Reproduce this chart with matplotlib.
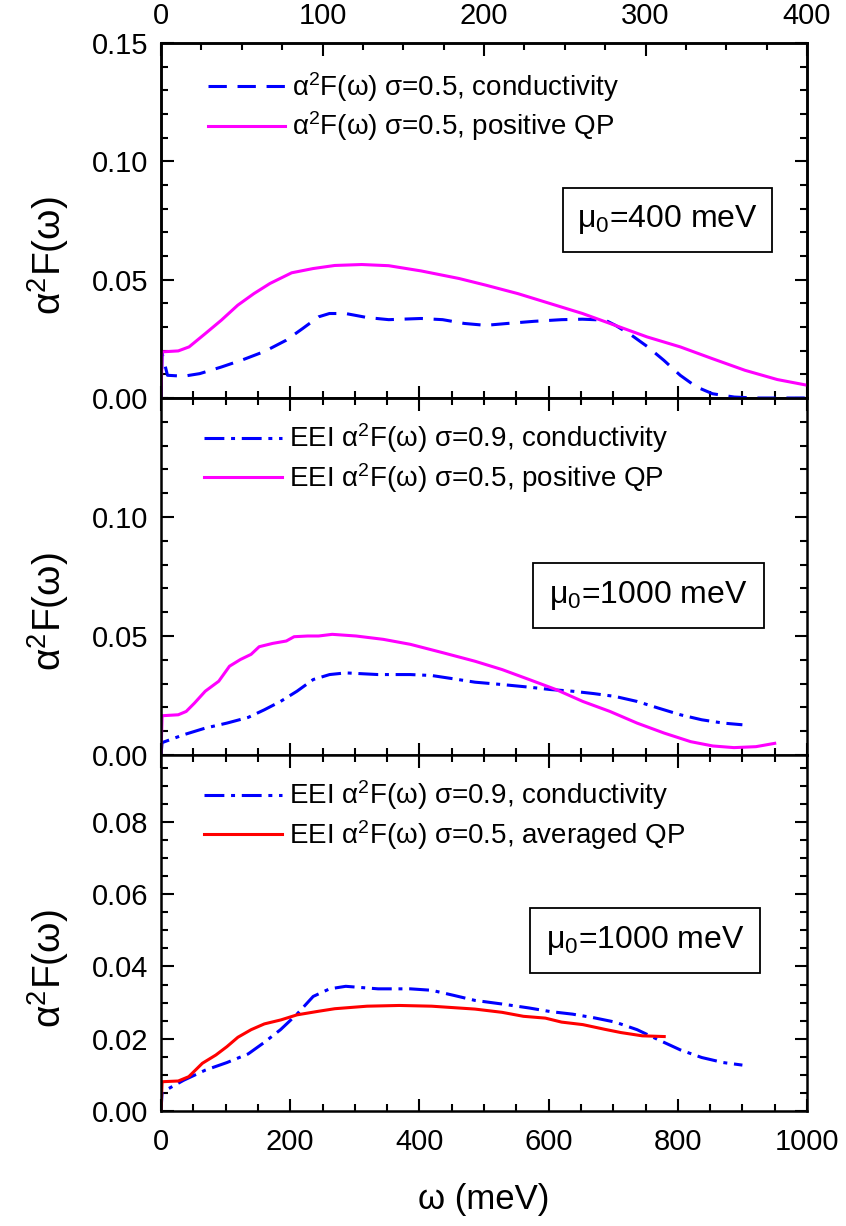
import numpy as np
import matplotlib
matplotlib.use("Agg")
import matplotlib.pyplot as plt
from matplotlib.ticker import MultipleLocator, FixedLocator
from matplotlib.patches import Rectangle

plt.rcParams['font.family'] = ['Liberation Sans', 'DejaVu Sans']
plt.rcParams['mathtext.fontset'] = 'custom'
plt.rcParams['mathtext.rm'] = 'Liberation Sans'
plt.rcParams['mathtext.it'] = 'Liberation Sans:italic'
plt.rcParams['mathtext.bf'] = 'Liberation Sans:bold'

# ---------------- data ----------------
# Top panel (mu0 = 400 meV), omega in meV (top axis 0-400)
top_cond_x = [0, 0.7, 4, 14, 24, 37.4, 50.8, 64.2, 77.5, 87.6, 97.6, 104.3, 114.3, 127.6, 141,
              161, 174.4, 187.8, 201, 214.5, 231, 248, 261, 275, 281.4, 291.4, 301.4, 311.4,
              321.5, 331.5, 341.5, 355, 368, 400]
top_cond_y = [0.0, 0.0188, 0.0096, 0.0092, 0.0103, 0.0131, 0.0162, 0.0197, 0.0244, 0.0293, 0.0343,
              0.0357, 0.0357, 0.0340, 0.0331, 0.0336, 0.0331, 0.0315, 0.0307, 0.0315, 0.0324,
              0.0331, 0.0333, 0.0329, 0.0307, 0.0265, 0.0216, 0.0159, 0.0096, 0.0047, 0.0018,
              0.0004, 0.0, 0.0]
top_qp_x = [0, 0.7, 10.7, 17.4, 27.4, 37.4, 47.5, 57.5, 67.5, 80.9, 94.2, 107.6, 124.3, 141, 161,
            184.5, 201, 221, 241, 261, 278, 301, 321.5, 341.5, 361.6, 381.6, 400]
top_qp_y = [0.0, 0.0195, 0.0199, 0.0216, 0.0272, 0.0329, 0.0392, 0.0441, 0.0484, 0.0529, 0.0547,
            0.0560, 0.0564, 0.0559, 0.0537, 0.0505, 0.0477, 0.0441, 0.0399, 0.0357, 0.0315,
            0.0258, 0.0216, 0.0166, 0.0117, 0.0078, 0.0054]

# EEI conductivity (sigma=0.9), mu0 = 1000 meV (used in middle and bottom panels)
eei_cond_x = [0, 1.7, 35, 68.5, 102, 135, 160, 185, 210.5, 235.6, 261, 286, 336, 386, 419, 453,
              486, 528, 570, 603, 637, 670, 703, 737, 770, 804, 837, 870.5, 900]
eei_cond_y = [0.0, 0.0052, 0.0085, 0.0113, 0.0134, 0.0158, 0.0190, 0.0225, 0.0268, 0.0317, 0.0338,
              0.0345, 0.0338, 0.0338, 0.0334, 0.0320, 0.0306, 0.0296, 0.0285, 0.0275, 0.0268,
              0.0258, 0.0246, 0.0225, 0.0197, 0.0169, 0.0148, 0.0134, 0.0127]

# EEI positive QP (sigma=0.5), middle panel
eei_pqp_x = [0, 1.7, 26.7, 39, 51.8, 68.5, 89.4, 106, 122.8, 139.5, 152, 173, 194, 206, 227, 244,
             265, 302, 344, 386, 436, 486, 528, 570, 611.5, 653, 695, 737, 779, 820, 854, 887,
             921, 950]
eei_pqp_y = [0.0, 0.0165, 0.0169, 0.0183, 0.0218, 0.0268, 0.0310, 0.0373, 0.0401, 0.0423, 0.0455,
             0.0469, 0.0479, 0.0497, 0.0500, 0.0500, 0.0507, 0.0500, 0.0486, 0.0465, 0.0430,
             0.0394, 0.0359, 0.0317, 0.0275, 0.0225, 0.0183, 0.0134, 0.0092, 0.0056, 0.0038,
             0.0031, 0.0035, 0.0049]

# EEI averaged QP (sigma=0.5), bottom panel
eei_aqp_x = [0, 1.7, 26.7, 43, 64, 85, 102, 119, 139.5, 160, 185.5, 210.5, 244, 269, 319, 369,
             419, 486, 528, 561, 595, 620, 653, 687, 712, 745, 779]
eei_aqp_y = [0.0, 0.0081, 0.0083, 0.0095, 0.0132, 0.0155, 0.0178, 0.0204, 0.0225, 0.0241, 0.0252,
             0.0266, 0.0276, 0.0283, 0.0290, 0.0292, 0.0290, 0.0282, 0.0273, 0.0262, 0.0257,
             0.0246, 0.0239, 0.0226, 0.0217, 0.0208, 0.0206]

labels_top = [r'α$^2$F(ω) σ=0.5, conductivity', r'α$^2$F(ω) σ=0.5, positive QP']
labels_mid = [r'EEI α$^2$F(ω) σ=0.9, conductivity', r'EEI α$^2$F(ω) σ=0.5, positive QP']
labels_bot = [r'EEI α$^2$F(ω) σ=0.9, conductivity', r'EEI α$^2$F(ω) σ=0.5, averaged QP']
box_texts = [r'μ$_0$=400 meV', r'μ$_0$=1000 meV', r'μ$_0$=1000 meV']

# ---------------- figure ----------------
W, H = 846, 1226
fig = plt.figure(figsize=(W / 100, H / 100), dpi=100)
L, R = 161, 807
panels_px = [(43, 398), (398, 755), (755, 1111)]
axes = []
for (t, b) in panels_px:
    ax = fig.add_axes([L / W, 1 - b / H, (R - L) / W, (b - t) / H])
    axes.append(ax)
ax1, ax2, ax3 = axes

TICK_FS = 21
LEG_FS = 20
BOX_FS = 23
LAB_FS = 28
LW = 2.2
SPW = 1.8
BLUE = '#0000FF'
MAG = '#FF00FF'
RED = '#FF0000'
DASH = (0, (6, 3.5))
DASHDOT = (0, (6.5, 2.2, 1.3, 2.2))


def style(ax, xlabels=False):
    ax.set_xlim(0, 1000)
    ax.xaxis.set_major_locator(MultipleLocator(200))
    ax.xaxis.set_minor_locator(MultipleLocator(50))
    ax.tick_params(which='both', direction='in', left=True, right=True, bottom=True, top=True,
                   labelsize=TICK_FS, width=1.5)
    ax.tick_params(which='major', length=9)
    ax.tick_params(which='minor', length=5)
    ax.tick_params(axis='y', pad=9)
    ax.tick_params(axis='x', pad=12, labelbottom=xlabels)
    for s in ax.spines.values():
        s.set_linewidth(SPW)
    ax.set_ylabel(r'α$^2$F(ω)', fontsize=LAB_FS)
    ax.yaxis.set_label_coords(-0.14, 0.40)


def add_box(ax, rect, text):
    x0, y0, x1, y1 = rect
    ax.add_patch(Rectangle((x0, y0), x1 - x0, y1 - y0, transform=ax.transAxes,
                           fill=False, edgecolor='black', linewidth=1.3, zorder=5))
    ax.text((x0 + x1) / 2, (y0 + y1) / 2, text, transform=ax.transAxes,
            ha='center', va='center', fontsize=BOX_FS, zorder=6)


def legend(ax, anchor):
    ax.legend(loc='upper left', bbox_to_anchor=anchor, frameon=False, fontsize=LEG_FS,
              handlelength=2.8, handletextpad=0.25, labelspacing=0.2, borderaxespad=0)


# ---- top panel ----
style(ax1)
ax1.set_ylim(0, 0.15)
ax1.yaxis.set_major_locator(FixedLocator([0, 0.05, 0.10, 0.15]))
ax1.yaxis.set_minor_locator(MultipleLocator(0.01))
ax1.set_yticklabels(['0.00', '0.05', '0.10', '0.15'])
ax1.tick_params(top=False, which='both')
ax1t = ax1.twiny()
ax1t.set_xlim(0, 400)
ax1t.xaxis.set_major_locator(MultipleLocator(100))
ax1t.xaxis.set_minor_locator(MultipleLocator(25))
ax1t.tick_params(which='both', direction='in', top=True, bottom=False, labelsize=TICK_FS, width=1.5, pad=9)
ax1t.tick_params(which='major', length=9)
ax1t.tick_params(which='minor', length=5)
for s in ax1t.spines.values():
    s.set_linewidth(SPW)
ax1t.plot(top_cond_x, top_cond_y, color=BLUE, lw=LW, linestyle=DASH, label=labels_top[0])
ax1t.plot(top_qp_x, top_qp_y, color=MAG, lw=LW, label=labels_top[1])
legend(ax1t, (0.055, 0.955))
add_box(ax1, (0.622, 0.411, 0.946, 0.592), box_texts[0])

# ---- middle panel ----
style(ax2)
ax2.set_ylim(0, 0.15)
ax2.yaxis.set_major_locator(FixedLocator([0, 0.05, 0.10]))
ax2.yaxis.set_minor_locator(MultipleLocator(0.01))
ax2.set_yticklabels(['0.00', '0.05', '0.10'])
ax2.plot(eei_cond_x, eei_cond_y, color=BLUE, lw=LW, linestyle=DASHDOT, label=labels_mid[0])
ax2.plot(eei_pqp_x, eei_pqp_y, color=MAG, lw=LW, label=labels_mid[1])
legend(ax2, (0.05, 0.965))
add_box(ax2, (0.576, 0.356, 0.933, 0.538), box_texts[1])

# ---- bottom panel ----
style(ax3, xlabels=True)
ax3.set_ylim(0, 0.0985)
ax3.yaxis.set_major_locator(FixedLocator([0, 0.02, 0.04, 0.06, 0.08]))
ax3.yaxis.set_minor_locator(MultipleLocator(0.005))
ax3.set_yticklabels(['0.00', '0.02', '0.04', '0.06', '0.08'])
ax3.plot(eei_cond_x, eei_cond_y, color=BLUE, lw=LW, linestyle=DASHDOT, label=labels_bot[0])
ax3.plot(eei_aqp_x, eei_aqp_y, color=RED, lw=LW, label=labels_bot[1])
legend(ax3, (0.05, 0.965))
add_box(ax3, (0.571, 0.389, 0.927, 0.569), box_texts[2])
ax3.set_xlabel('ω (meV)', fontsize=25, labelpad=20)

fig.savefig('out.png', dpi=100)
